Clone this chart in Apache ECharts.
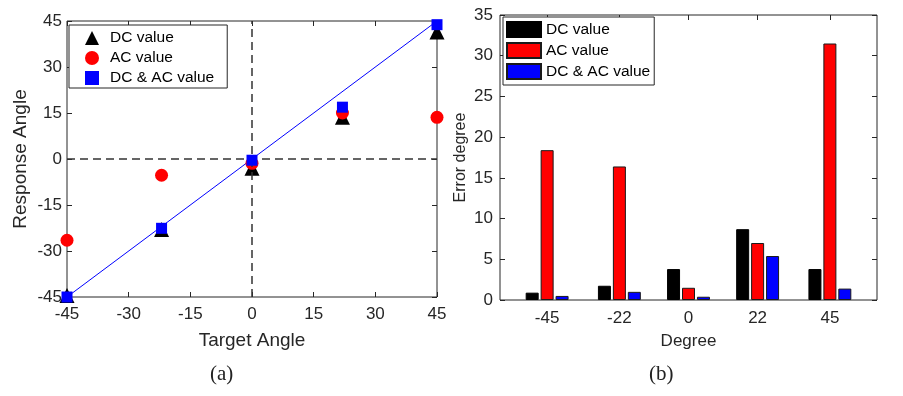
<!DOCTYPE html>
<html>
<head>
<meta charset="utf-8">
<script src="https://cdn.jsdelivr.net/npm/echarts@6/dist/echarts.min.js"></script>
<style>
  html, body { margin: 0; padding: 0; background: #fff; }
  #chart { width: 903px; height: 396px; }
</style>
</head>
<body>
<div id="chart"></div>
<script>
// (a) response angle vs target angle
const targetAngles = [-45, -22, 0, 22, 45];
const dcResponse = [-44.5, -23, -3, 13.6, 41.4];
const acResponse = [-26.5, -5.3, -1.4, 15, 13.6];
const dcAcResponse = [-45, -22.6, -0.4, 16.9, 43.8];
const idealX = [-45, 45];
const idealY = [-45, 45];

// (b) error degree per target degree
const degrees = [-45, -22, 0, 22, 45];
const dcError = [0.9, 1.75, 3.8, 8.7, 3.8];
const acError = [18.4, 16.4, 1.5, 7.0, 31.5];
const dcAcError = [0.5, 1.0, 0.4, 5.4, 1.4];

const legendNames = ['DC value', 'AC value', 'DC & AC value'];

const FONT = "'Liberation Sans', Arial, Helvetica, sans-serif";
const AXIS_COLOR = '#262626';

const zip = (xs, ys) => xs.map((x, i) => [x, ys[i]]);

const chart = echarts.init(document.getElementById('chart'), null, { renderer: 'canvas' });

function frameAxis(extra) {
  return Object.assign({
    axisLine: { show: false, onZero: false },
    splitLine: { show: false },
    axisTick: { inside: true, length: 5, lineStyle: { color: AXIS_COLOR } },
    axisLabel: { color: AXIS_COLOR, fontFamily: FONT, fontSize: 17 },
    nameTextStyle: { color: AXIS_COLOR, fontFamily: FONT }
  }, extra);
}

const hidden = { show: false };

const option = {
  animation: false,
  backgroundColor: '#fff',
  grid: [
    { left: 67, top: 21, width: 370, height: 276, show: true, borderColor: AXIS_COLOR, borderWidth: 1 },
    { left: 500, top: 15, width: 377, height: 285, show: true, borderColor: AXIS_COLOR, borderWidth: 1 }
  ],
  xAxis: [
    frameAxis({
      gridIndex: 0, type: 'value', min: -45, max: 45, interval: 15,
      name: 'Target Angle', nameLocation: 'middle', nameGap: 34,
      nameTextStyle: { color: AXIS_COLOR, fontFamily: FONT, fontSize: 19 },
      axisLabel: { color: AXIS_COLOR, fontFamily: FONT, fontSize: 17, margin: 9 }
    }),
    frameAxis({
      gridIndex: 0, type: 'value', position: 'top', min: -45, max: 45, interval: 15,
      axisLabel: hidden
    }),
    frameAxis({
      gridIndex: 1, type: 'value', min: -60, max: 60,
      name: 'Degree', nameLocation: 'middle', nameGap: 33,
      nameTextStyle: { color: AXIS_COLOR, fontFamily: FONT, fontSize: 17 },
      axisTick: { inside: true, length: 5, lineStyle: { color: AXIS_COLOR }, customValues: degrees },
      axisLabel: { color: AXIS_COLOR, fontFamily: FONT, fontSize: 17, margin: 10, customValues: degrees }
    }),
    frameAxis({
      gridIndex: 1, type: 'value', position: 'top', min: -60, max: 60,
      axisTick: { inside: true, length: 5, lineStyle: { color: AXIS_COLOR }, customValues: degrees },
      axisLabel: { show: false, customValues: degrees }
    })
  ],
  yAxis: [
    frameAxis({
      gridIndex: 0, type: 'value', min: -45, max: 45, interval: 15,
      name: 'Response Angle', nameLocation: 'middle', nameGap: 37,
      nameTextStyle: { color: AXIS_COLOR, fontFamily: FONT, fontSize: 19 },
      axisLabel: { color: AXIS_COLOR, fontFamily: FONT, fontSize: 17, margin: 5 }
    }),
    frameAxis({
      gridIndex: 0, type: 'value', position: 'right', min: -45, max: 45, interval: 15,
      axisLabel: hidden
    }),
    frameAxis({
      gridIndex: 1, type: 'value', min: 0, max: 35, interval: 5,
      name: 'Error degree', nameLocation: 'middle', nameGap: 31,
      nameTextStyle: { color: AXIS_COLOR, fontFamily: FONT, fontSize: 16 },
      axisLabel: { color: AXIS_COLOR, fontFamily: FONT, fontSize: 17, margin: 7 }
    }),
    frameAxis({
      gridIndex: 1, type: 'value', position: 'right', min: 0, max: 35, interval: 5,
      axisLabel: hidden
    })
  ],
  legend: [
    {
      left: 69, top: 25, orient: 'vertical',
      data: legendNames,
      itemWidth: 14, itemHeight: 14, itemGap: 4,
      symbolKeepAspect: true,
      padding: [5, 13, 2, 16],
      borderColor: AXIS_COLOR, borderWidth: 1, backgroundColor: '#fff',
      textStyle: { fontFamily: FONT, fontSize: 15.5, lineHeight: 16, color: '#000', padding: [0, 0, 0, 6] },
      selectedMode: false
    },
    {
      left: 503, top: 17, orient: 'vertical',
      data: legendNames.map(n => n + ' '),
      formatter: n => n.trim(),
      icon: 'rect',
      itemWidth: 34, itemHeight: 15, itemGap: 4,
      padding: [4, 4, 5, 3],
      borderColor: AXIS_COLOR, borderWidth: 1, backgroundColor: '#fff',
      textStyle: { fontFamily: FONT, fontSize: 15.5, lineHeight: 16, color: '#000' },
      selectedMode: false
    }
  ],
  series: [
    {
      name: 'ideal', type: 'line', xAxisIndex: 0, yAxisIndex: 0,
      data: zip(idealX, idealY), showSymbol: false, symbol: 'none',
      lineStyle: { color: '#0000ff', width: 1 }, z: 1,
      markLine: {
        silent: true, symbol: 'none', label: { show: false },
        lineStyle: { color: '#333', width: 1.5, type: [8, 5] },
        data: [{ xAxis: 0 }, { yAxis: 0 }]
      }
    },
    {
      name: 'DC value', type: 'scatter', xAxisIndex: 0, yAxisIndex: 0,
      data: zip(targetAngles, dcResponse), symbol: 'triangle', symbolSize: 15,
      symbolKeepAspect: true,
      itemStyle: { color: '#000', opacity: 1 }, z: 3
    },
    {
      name: 'AC value', type: 'scatter', xAxisIndex: 0, yAxisIndex: 0,
      data: zip(targetAngles, acResponse), symbol: 'circle', symbolSize: 13,
      symbolKeepAspect: true,
      itemStyle: { color: '#ff0000', opacity: 1 }, z: 4
    },
    {
      name: 'DC & AC value', type: 'scatter', xAxisIndex: 0, yAxisIndex: 0,
      data: zip(targetAngles, dcAcResponse), symbol: 'rect', symbolSize: 11,
      symbolKeepAspect: true,
      itemStyle: { color: '#0000ff', opacity: 1 }, z: 5
    },
    {
      name: 'DC value ', type: 'bar', xAxisIndex: 2, yAxisIndex: 2,
      data: zip(degrees, dcError), barWidth: 13, barGap: '15%',
      itemStyle: { color: '#000', borderColor: '#000', borderWidth: 1 }
    },
    {
      name: 'AC value ', type: 'bar', xAxisIndex: 2, yAxisIndex: 2,
      data: zip(degrees, acError), barWidth: 13, barGap: '15%',
      itemStyle: { color: '#ff0000', borderColor: '#1a1a1a', borderWidth: 1 }
    },
    {
      name: 'DC & AC value ', type: 'bar', xAxisIndex: 2, yAxisIndex: 2,
      data: zip(degrees, dcAcError), barWidth: 13, barGap: '15%',
      itemStyle: { color: '#0000ff', borderColor: '#1a1a1a', borderWidth: 1 }
    }
  ],
  graphic: [
    { type: 'text', left: 210, top: 364, style: { text: '(a)', font: "21px 'Liberation Serif', 'DejaVu Serif', serif", fill: '#222' } },
    { type: 'text', left: 649, top: 364, style: { text: '(b)', font: "21px 'Liberation Serif', 'DejaVu Serif', serif", fill: '#222' } }
  ]
};

chart.setOption(option);
</script>
</body>
</html>
